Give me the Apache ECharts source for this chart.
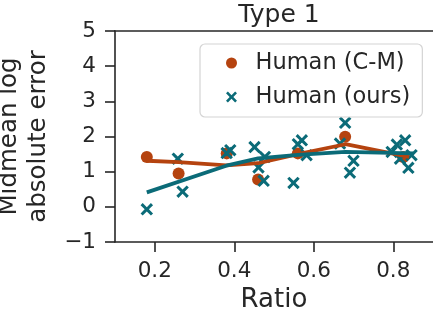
<!DOCTYPE html>
<html>
<head>
<meta charset="utf-8">
<script src="https://cdn.jsdelivr.net/npm/echarts@6/dist/echarts.min.js"></script>
<style>html,body{margin:0;padding:0;background:#fff}#c{width:433px;height:316px}</style>
</head>
<body>
<div id="c"></div>
<script>
// Human (C-M): ratio, midmean log absolute error
var cmRatio = [0.180, 0.260, 0.381, 0.460, 0.560, 0.679, 0.825];
var cmValue = [1.42, 0.95, 1.52, 0.78, 1.52, 1.99, 1.42];
// Human (ours)
var oursRatio = [0.180, 0.258, 0.270, 0.381, 0.390, 0.451, 0.461, 0.474, 0.477, 0.549, 0.560, 0.570, 0.582, 0.666, 0.679, 0.691, 0.700, 0.796, 0.809, 0.817, 0.830, 0.838, 0.846];
var oursValue = [-0.07, 1.37, 0.43, 1.53, 1.61, 1.70, 1.12, 0.74, 1.42, 0.68, 1.78, 1.89, 1.47, 1.80, 2.39, 0.97, 1.31, 1.56, 1.77, 1.37, 1.89, 1.11, 1.47];
// Trend lines
var cmLineX = [0.180, 0.260, 0.380, 0.460, 0.560, 0.680, 0.840];
var cmLineY = [1.31, 1.27, 1.18, 1.24, 1.50, 1.78, 1.42];
var oursLineX = [0.180, 0.380, 0.460, 0.560, 0.680, 0.850];
var oursLineY = [0.41, 1.17, 1.38, 1.48, 1.56, 1.52];
var xTicks = [0.2, 0.4, 0.6, 0.8];
var X_MIN = 0.1, X_MAX = 0.9, Y_MIN = -1, Y_MAX = 5;

function zip(a, b) { return a.map(function (v, i) { return [v, b[i]]; }); }

var ORANGE = '#b5430f';
var TEAL = '#0b6b78';
var TXT = '#262626';
var FONT = 'DejaVu Sans';
var CROSS = 'path://M0,1.7 L1.7,0 L5,3.3 L8.3,0 L10,1.7 L6.7,5 L10,8.3 L8.3,10 L5,6.7 L1.7,10 L0,8.3 L3.3,5 Z';

var chart = echarts.init(document.getElementById('c'), null, {renderer: 'canvas'});
chart.setOption({
  animation: false,
  textStyle: {fontFamily: FONT, color: TXT},
  title: {
    text: 'Type 1', left: 274, top: -2, textAlign: 'center',
    textStyle: {fontFamily: FONT, fontSize: 25, fontWeight: 'normal', color: TXT}
  },
  grid: {left: 115, right: 0, top: 31, bottom: 74, outerBoundsMode: 'none'},
  legend: {
    orient: 'vertical', left: 200, top: 44,
    padding: [6, 12, 7, 26],
    itemWidth: 38, itemHeight: 11, itemGap: 8,
    backgroundColor: 'rgba(255,255,255,0.85)', borderColor: '#d4d4d4', borderWidth: 1.2, borderRadius: 5,
    textStyle: {fontFamily: FONT, fontSize: 22.5, color: TXT, lineHeight: 26},
    data: [{name: 'Human (C-M)', icon: 'circle'}, {name: 'Human (ours)', icon: CROSS}]
  },
  xAxis: {
    type: 'value', min: X_MIN, max: X_MAX,
    name: 'Ratio', nameLocation: 'middle', nameGap: 43,
    nameTextStyle: {fontFamily: FONT, fontSize: 26, color: TXT},
    axisLine: {show: true, onZero: false, lineStyle: {color: TXT, width: 1.6}},
    axisTick: {show: true, length: 10, customValues: xTicks, lineStyle: {color: TXT, width: 1.6}},
    axisLabel: {customValues: xTicks, margin: 18, fontFamily: FONT, fontSize: 21.5, color: TXT,
      formatter: function (v) { return v.toFixed(1); }},
    splitLine: {show: false}
  },
  yAxis: {
    type: 'value', min: Y_MIN, max: Y_MAX, interval: 1,
    name: 'Midmean log\nabsolute error', nameLocation: 'middle', nameGap: 58, nameRotate: 90,
    nameTextStyle: {fontFamily: FONT, fontSize: 24.5, color: TXT, lineHeight: 29},
    axisLine: {show: true, onZero: false, lineStyle: {color: TXT, width: 1.6}},
    axisTick: {show: true, length: 10, lineStyle: {color: TXT, width: 1.6}},
    axisLabel: {margin: 19, fontFamily: FONT, fontSize: 21.5, color: TXT,
      formatter: function (v) { return v < 0 ? '\u2212' + Math.abs(v) : String(v); }},
    splitLine: {show: false}
  },
  series: [
    {name: 'Human (C-M)', type: 'scatter', data: zip(cmRatio, cmValue), symbol: 'circle', symbolSize: 12,
      itemStyle: {color: ORANGE, opacity: 1}, z: 2},
    {name: 'Human (ours)', type: 'scatter', data: zip(oursRatio, oursValue), symbol: CROSS, symbolSize: 12.5,
      itemStyle: {color: TEAL, opacity: 1}, z: 3},
    {name: 'cmLine', type: 'line', data: zip(cmLineX, cmLineY), showSymbol: false, symbol: 'none',
      lineStyle: {color: ORANGE, width: 3.8}, z: 4},
    {name: 'oursLine', type: 'line', data: zip(oursLineX, oursLineY), showSymbol: false, symbol: 'none',
      lineStyle: {color: TEAL, width: 3.8}, z: 5}
  ]
});

// top spine of the axes frame, drawn as a thin filled rect through the chart's own scales
var p0 = chart.convertToPixel({gridIndex: 0}, [X_MIN, Y_MAX]);
var p1 = chart.convertToPixel({gridIndex: 0}, [X_MAX, Y_MAX]);
chart.setOption({
  graphic: [{
    type: 'rect', z: 100, zlevel: 1, silent: true,
    shape: {x: p0[0] - 0.8, y: p0[1] - 0.8, width: p1[0] - p0[0] + 2, height: 1.6},
    style: {fill: TXT}
  }]
});
</script>
</body>
</html>
